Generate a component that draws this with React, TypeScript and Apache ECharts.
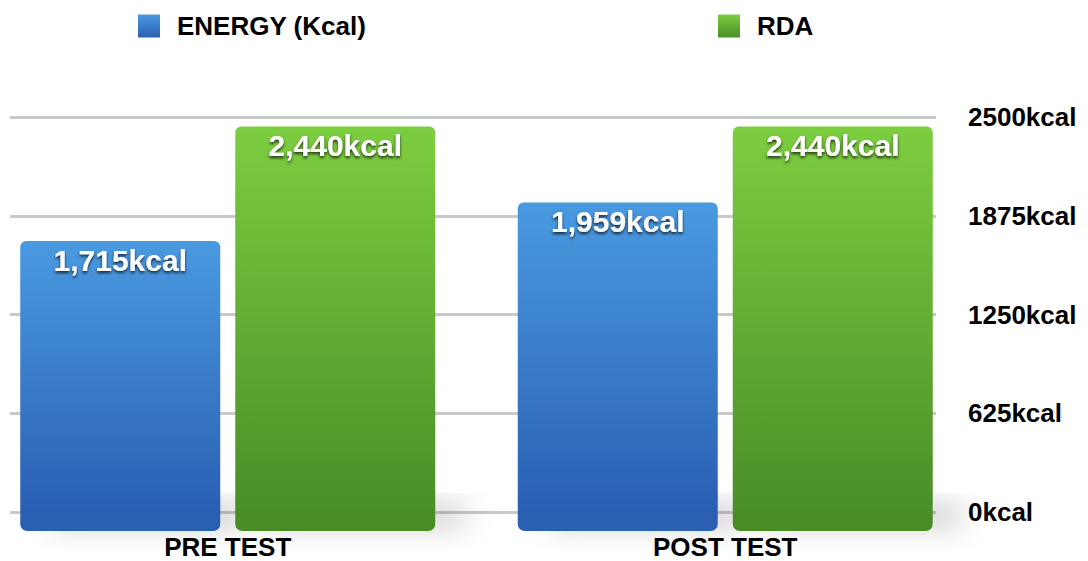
import React, { useEffect, useRef } from "react";
import * as echarts from "echarts";

const categories = ["PRE TEST", "POST TEST"];
const energyValues = [1715, 1959];
const rdaValues = [2440, 2440];
const seriesNames = ["ENERGY (Kcal)", "RDA"];
const yTicks = [0, 625, 1250, 1875, 2500];
const baseDepth = 120; // visual depth of the bars below the floor line (kcal units)

const FONT = "'Liberation Sans', Arial, Helvetica, sans-serif";

const fmt = (v: number) => v.toLocaleString("en-US") + "kcal";

const blueGrad = new echarts.graphic.LinearGradient(0, 0, 0, 1, [
  { offset: 0, color: "#4a9ae0" },
  { offset: 1, color: "#2a5fb3" },
]);
const greenGrad = new echarts.graphic.LinearGradient(0, 0, 0, 1, [
  { offset: 0, color: "#7dcd40" },
  { offset: 1, color: "#4a8e28" },
]);
const blueBottom = "#2a5eb1";
const greenBottom = "#488c27";

export default function App() {
  const ref = useRef<HTMLDivElement>(null);
  useEffect(() => {
    document.body.style.margin = "0";
    const chart = echarts.init(ref.current!, null, { renderer: "svg" });
    const labelStyle = {
      show: true,
      position: "insideTop",
      distance: 4,
      color: "#ffffff",
      fontSize: 30,
      fontWeight: "bold",
      fontFamily: FONT,
      textShadowColor: "rgba(0,0,0,0.75)",
      textShadowBlur: 3,
      textShadowOffsetY: 2,
      formatter: (p: any) => fmt(p.value),
    };
    const legendCommon = {
      top: 13,
      icon: "rect",
      itemWidth: 22,
      itemHeight: 23,
      padding: 0,
      textStyle: {
        fontSize: 26,
        fontWeight: "bold",
        color: "#000",
        fontFamily: FONT,
        padding: [0, 0, 0, 12],
      },
    };
    const shadowStyle = {
      shadowColor: "rgba(0,0,0,0.24)",
      shadowBlur: 30,
      shadowOffsetX: 30,
      shadowOffsetY: -6,
    };
    chart.setOption({
      animation: false,
      backgroundColor: "#ffffff",
      legend: [
        { ...legendCommon, data: [seriesNames[0]], left: 138 },
        { ...legendCommon, data: [seriesNames[1]], left: 718 },
      ],
      grid: [
        { left: 10, right: 152, top: 117, bottom: 49, containLabel: false, outerBoundsMode: "none" },
        { left: -21, right: 114, top: 117, bottom: 49, containLabel: false, outerBoundsMode: "none" },
      ],
      xAxis: [
        { type: "value", gridIndex: 0, min: 0, max: 1, show: false },
        {
          type: "category",
          gridIndex: 1,
          data: categories,
          axisLine: { show: false },
          axisTick: { show: false },
          axisLabel: {
            margin: 22,
            fontSize: 26,
            lineHeight: 26,
            fontWeight: "bold",
            color: "#000",
            fontFamily: FONT,
          },
        },
      ],
      yAxis: [
        {
          type: "value",
          gridIndex: 0,
          position: "right",
          min: yTicks[0],
          max: yTicks[yTicks.length - 1],
          interval: yTicks[1] - yTicks[0],
          axisLine: { show: false },
          axisTick: { show: false },
          splitLine: { show: true, lineStyle: { color: "#c9c9c9", width: 3 } },
          axisLabel: {
            margin: 32,
            fontSize: 26,
            fontWeight: "bold",
            color: "#000",
            fontFamily: FONT,
            formatter: (v: number) => v + "kcal",
          },
        },
        {
          type: "value",
          gridIndex: 1,
          min: yTicks[0],
          max: yTicks[yTicks.length - 1],
          show: false,
          splitLine: { show: false },
        },
      ],
      series: [
        {
          name: seriesNames[0],
          type: "bar",
          xAxisIndex: 1,
          yAxisIndex: 1,
          stack: "e",
          data: energyValues,
          barWidth: 200,
          barGap: "7.5%",
          itemStyle: { color: blueGrad, borderRadius: [6, 6, 0, 0] },
          label: labelStyle,
          z: 3,
        },
        {
          name: seriesNames[1],
          type: "bar",
          xAxisIndex: 1,
          yAxisIndex: 1,
          stack: "r",
          data: rdaValues,
          barWidth: 200,
          barGap: "7.5%",
          itemStyle: { color: greenGrad, borderRadius: [6, 6, 0, 0] },
          label: labelStyle,
          z: 3,
        },
        {
          name: "energyBase",
          type: "bar",
          xAxisIndex: 1,
          yAxisIndex: 1,
          stack: "e",
          clip: false,
          data: energyValues.map(() => -baseDepth),
          barWidth: 200,
          barGap: "7.5%",
          itemStyle: { color: blueBottom, borderRadius: [0, 0, 7, 7], ...shadowStyle },
          z: 2,
        },
        {
          name: "rdaBase",
          type: "bar",
          xAxisIndex: 1,
          yAxisIndex: 1,
          stack: "r",
          clip: false,
          data: rdaValues.map(() => -baseDepth),
          barWidth: 200,
          barGap: "7.5%",
          itemStyle: { color: greenBottom, borderRadius: [0, 0, 7, 7], ...shadowStyle },
          z: 2,
        },
      ],
    });
    return () => chart.dispose();
  }, []);
  return (
    <div
      ref={ref}
      style={{ position: "absolute", left: 0, top: 0, width: 1088, height: 561 }}
    />
  );
}
